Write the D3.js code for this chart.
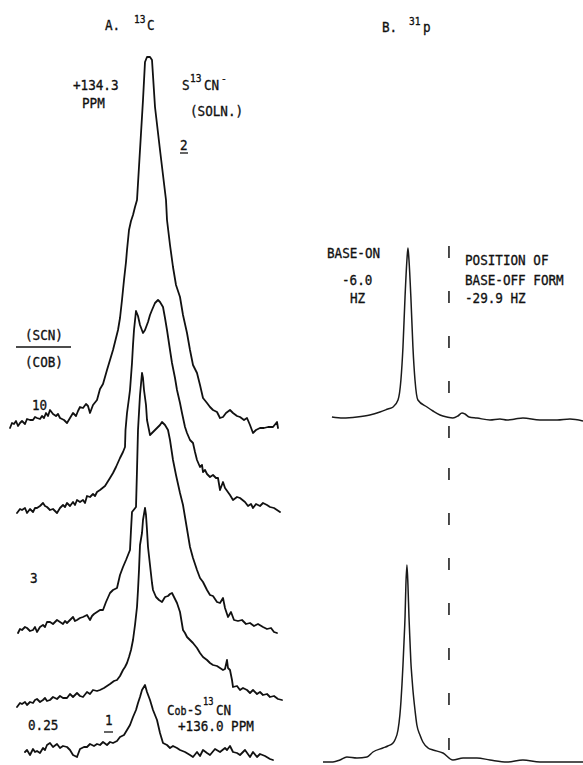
<!DOCTYPE html>
<html>
<head>
<meta charset="utf-8">
<script src="https://cdn.jsdelivr.net/npm/d3@7"></script>
<style>
  html, body { margin: 0; padding: 0; background: #fff; }
  svg { display: block; }
</style>
</head>
<body>
<svg id="chart" width="583" height="765"></svg>
<script>
// ---------------- DATA ----------------
// Panel A: 13C spectra, [channel, intensity] (intensity relative to each trace's baseline)
const ratioLabels = ["10", "", "", "3", "0.25"];

const c13Ratio10 = [[10,-8],[12,-3],[14,-4],[16,-1],[18,-6],[20,-3],[22,-1],[25,-4],[27,1],[30,0],[33,0],[35,3],[37,2],[40,1],[42,4],[44,2],[46,7],[48,4],[50,10],[53,6],[56,4],[58,6],[60,2],[64,0],[67,-3],[70,2],[73,7],[76,4],[78,9],[80,13],[83,12],[86,16],[88,14],[90,7],[93,15],[97,20],[100,31],[103,36],[107,50],[110,60],[113,70],[116,82],[118,90],[120,102],[122,120],[124,140],[126,158],[127,170],[129,190],[131,199],[133,205],[135,213],[137,220],[140,270],[143,320],[145,358],[147,363],[150,363],[152,360],[155,313],[160,270],[166,220],[167,200],[170,175],[173,153],[176,135],[180,123],[183,105],[187,87],[190,70],[193,55],[197,47],[200,35],[203,22],[207,17],[210,13],[213,10],[217,8],[220,2],[223,3],[226,7],[230,10],[233,7],[237,4],[240,3],[244,0],[247,2],[250,-5],[253,-13],[256,-10],[260,-8],[264,-8],[268,-7],[273,-7],[277,-2],[278,-8]];

const c13TraceB = [[17,-3],[20,1],[22,0],[25,2],[27,-3],[30,1],[33,-2],[35,2],[37,2],[40,4],[43,7],[45,4],[47,3],[50,0],[53,1],[57,-3],[60,2],[63,5],[65,3],[67,7],[70,4],[73,8],[75,5],[77,10],[80,8],[83,10],[85,7],[87,14],[90,13],[93,16],[95,14],[97,18],[100,20],[105,24],[110,32],[113,37],[116,43],[120,52],[123,58],[125,63],[125.5,80],[127,97],[129,112],[130,120],[132,147],[133,165],[134,180],[136,199],[138,194],[140,185],[143,177],[145,180],[148,188],[150,195],[152,200],[155,207],[158,210],[160,208],[163,203],[165,192],[167,180],[170,160],[172,147],[175,132],[177,120],[180,107],[182,97],[185,83],[187,77],[190,70],[193,67],[195,58],[197,50],[200,43],[202,45],[203,38],[205,40],[207,36],[210,33],[213,35],[216,32],[218,32],[220,20],[223,28],[225,22],[230,15],[233,10],[237,13],[240,12],[245,8],[248,4],[251,6],[253,2],[256,6],[260,4],[263,7],[267,5],[270,3],[274,2],[277,0],[280,-2]];

const c13TraceC = [[18,-3],[20,1],[22,0],[25,3],[27,2],[30,-1],[33,0],[35,3],[37,-2],[40,3],[43,5],[45,3],[47,8],[50,8],[53,6],[57,10],[60,8],[63,6],[65,9],[67,7],[70,10],[73,13],[75,9],[77,10],[80,12],[83,13],[87,15],[90,10],[92,14],[94,16],[97,18],[100,20],[103,20],[106,28],[110,37],[113,40],[117,42],[120,55],[123,63],[126,70],[130,80],[131,100],[132,118],[136,123],[137,160],[138,200],[140,235],[142,257],[143,252],[144,240],[146,225],[147,210],[150,195],[153,198],[157,202],[160,205],[162,208],[165,205],[168,200],[170,190],[173,170],[176,155],[180,137],[183,125],[185,113],[188,95],[190,83],[193,72],[197,60],[200,52],[203,48],[207,40],[210,35],[213,34],[217,28],[220,27],[223,32],[225,22],[228,13],[231,18],[234,10],[238,9],[242,10],[246,6],[250,7],[254,4],[258,6],[263,3],[267,1],[271,2],[274,-2],[277,-3]];

const c13Ratio3 = [[17,-7],[20,-3],[22,-4],[25,-2],[27,-5],[30,-2],[33,-3],[35,0],[37,1],[40,-2],[43,0],[45,2],[47,-1],[50,0],[53,3],[57,1],[60,4],[63,2],[67,2],[70,6],[73,3],[77,7],[80,4],[83,3],[87,8],[90,6],[93,10],[97,9],[100,10],[104,12],[107,14],[110,16],[114,19],[117,20],[120,24],[123,30],[125,33],[127,37],[129,43],[131,50],[133,60],[135,75],[137,93],[138,110],[139,130],[140,155],[142,167],[143,180],[145,192],[146,185],[147,170],[148,153],[150,135],[152,117],[153,110],[156,103],[159,100],[162,98],[165,103],[168,104],[170,106],[172,107],[174,103],[177,97],[180,88],[183,70],[185,67],[187,63],[190,60],[193,57],[197,52],[200,47],[203,43],[207,40],[210,37],[213,35],[217,34],[220,32],[223,30],[225,31],[227,40],[228,32],[230,30],[232,20],[233,13],[237,14],[240,10],[243,12],[247,10],[250,7],[253,10],[257,6],[260,8],[263,5],[267,6],[270,3],[274,4],[278,1],[282,0]];

const c13Ratio025 = [[25,-2],[27,0],[30,-5],[33,1],[35,-2],[37,-1],[40,-3],[43,2],[45,0],[47,5],[50,7],[53,3],[57,6],[60,2],[63,4],[67,3],[70,0],[73,-5],[77,-7],[80,1],[84,3],[87,3],[90,6],[94,4],[97,6],[100,5],[103,8],[107,5],[110,8],[113,7],[117,9],[120,13],[124,15],[127,20],[130,25],[133,33],[136,40],[138,47],[140,53],[142,60],[145,65],[147,58],[150,50],[153,40],[157,30],[160,17],[163,7],[167,5],[170,2],[173,4],[177,2],[180,0],[185,-2],[190,-5],[193,-7],[197,-2],[200,-6],[203,0],[207,-3],[210,-5],[215,1],[220,-2],[225,2],[227,0],[230,4],[233,-2],[237,-3],[240,-5],[245,0],[250,-7],[253,-2],[257,-7],[260,-4],[265,-6],[270,-9],[273,-10]];

// Panel B: 31P spectra, [Hz, intensity]
const p31Upper = [[38.3,1],[31.9,0],[23.7,1],[16.2,3],[10.3,6],[5.7,9],[2.7,11],[-0.2,18],[-1.9,38],[-3.1,71],[-4.3,121],[-5.4,158],[-6.0,170],[-6.6,158],[-7.7,121],[-8.9,71],[-10.1,38],[-11.8,18],[-17.1,11],[-20.6,7],[-24.7,3],[-28.7,1],[-32.2,0],[-35.1,2],[-37.5,5],[-39.2,4],[-41.6,1],[-46.2,0],[-53.8,-2],[-59.6,-1],[-63.7,-2],[-68.4,-1],[-73.0,0],[-82.9,-2],[-92.9,-2],[-100.4,-1],[-108.0,-3]];

const p31Lower = [[43.5,-2],[37.7,-2],[33.6,0],[29.6,3],[23.7,2],[17.9,3],[14.4,8],[8.6,12],[5.7,14],[2.7,17],[1.6,20],[-0.2,30],[-1.3,45],[-1.9,58],[-2.5,75],[-3.1,95],[-3.7,118],[-4.3,143],[-4.8,175],[-5.4,195],[-6.0,175],[-6.6,143],[-7.2,118],[-7.7,98],[-8.3,83],[-8.9,70],[-10.1,50],[-11.2,35],[-13.0,25],[-14.7,18],[-17.7,12],[-20.6,10],[-26.4,7],[-32.2,0],[-38.1,2],[-46.2,2],[-53.8,0],[-63.7,-2],[-73.0,0],[-82.9,-2],[-92.9,-2],[-102.2,-2],[-108.0,-2]];

const baseOnHz = -6.0;
const baseOffHz = -29.9;

// ---------------- DRAW ----------------
const svg = d3.select("#chart");
const INK = "#111";
const FONT = "'DejaVu Sans Mono', monospace";

// Panel A
const xA = d3.scaleLinear().domain([0, 290]).range([0, 290]);
const aTraces = [c13Ratio10, c13TraceB, c13TraceC, c13Ratio3, c13Ratio025];
const aBaselines = [420, 510, 630, 700, 750];
aTraces.forEach((tr, i) => {
  const y = d3.scaleLinear().domain([0, 100]).range([aBaselines[i], aBaselines[i] - 100]);
  const line = d3.line().x(d => xA(d[0])).y(d => y(d[1])).curve(d3.curveLinear);
  svg.append("path").datum(tr).attr("d", line)
    .attr("fill", "none").attr("stroke", INK).attr("stroke-width", 1.8)
    .attr("stroke-linejoin", "round").attr("stroke-linecap", "round");
});

// Panel B
const xB = d3.scaleLinear().domain([43.5, -108]).range([323, 583]);
const bTraces = [p31Upper, p31Lower];
const bBaselines = [418, 760];
bTraces.forEach((tr, i) => {
  const y = d3.scaleLinear().domain([0, 100]).range([bBaselines[i], bBaselines[i] - 100]);
  const line = d3.line().x(d => xB(d[0])).y(d => y(d[1])).curve(d3.curveMonotoneX);
  svg.append("path").datum(tr).attr("d", line)
    .attr("fill", "none").attr("stroke", "#1a1a1a").attr("stroke-width", 1.5)
    .attr("stroke-linejoin", "round");
});
// dashed position-of-base-off markers
[[246, 440], [468, 757]].forEach(([y0, y1]) => {
  svg.append("line")
    .attr("x1", xB(baseOffHz)).attr("x2", xB(baseOffHz))
    .attr("y1", y0).attr("y2", y1)
    .attr("stroke", INK).attr("stroke-width", 1.5)
    .attr("stroke-dasharray", "12,33");
});

// Text helper
function label(x, y, txt, size) {
  const g = svg.append("g").attr("transform", `translate(${x},${y}) scale(0.87,1)`);
  const t = g.append("text").attr("x", 0).attr("y", 0)
    .attr("font-family", FONT).attr("font-size", size || 14.5)
    .attr("fill", INK).attr("stroke", INK).attr("stroke-width", 0.35);
  if (Array.isArray(txt)) {
    txt.forEach(p => t.append("tspan").attr("font-size", p[1]).text(p[0]));
  } else {
    t.text(txt);
  }
}
function rule(x1, x2, y) {
  svg.append("line").attr("x1", x1).attr("x2", x2).attr("y1", y).attr("y2", y)
    .attr("stroke", INK).attr("stroke-width", 1.3);
}

// Panel A text
label(105, 30, "A.");
label(134, 23, "13", 11);
label(147, 30, "C");
label(73, 90, "+134.3");
label(82, 108, "PPM");
label(182, 90, "S");
label(190, 82, "13", 11);
label(204, 90, "CN");
label(221, 82, "-", 11);
label(190, 116, "(SOLN.)");
label(180, 150, "2");
rule(180, 188, 153);
label(25, 340, "(SCN)");
rule(16, 71, 347);
label(25, 367, "(COB)");
label(32, 410, ratioLabels[0]);
label(30, 583, ratioLabels[3]);
label(28, 730, ratioLabels[4]);
label(105, 725, "1");
rule(104, 113, 732);
label(167, 715, [["C", 14.5], ["ob", 11.5], ["-S", 14.5]]);
label(203, 705, "13", 10);
label(216, 715, "CN");
label(178, 731, "+136.0 PPM");

// Panel B text
label(382, 32, "B.");
label(409, 25, "31", 11);
label(423, 32, "p");
label(327, 258, "BASE-ON");
label(342, 285, "-6.0");
label(350, 303, "HZ");
label(465, 265, "POSITION OF");
label(465, 285, "BASE-OFF FORM");
label(465, 303, "-29.9 HZ");
</script>
</body>
</html>
